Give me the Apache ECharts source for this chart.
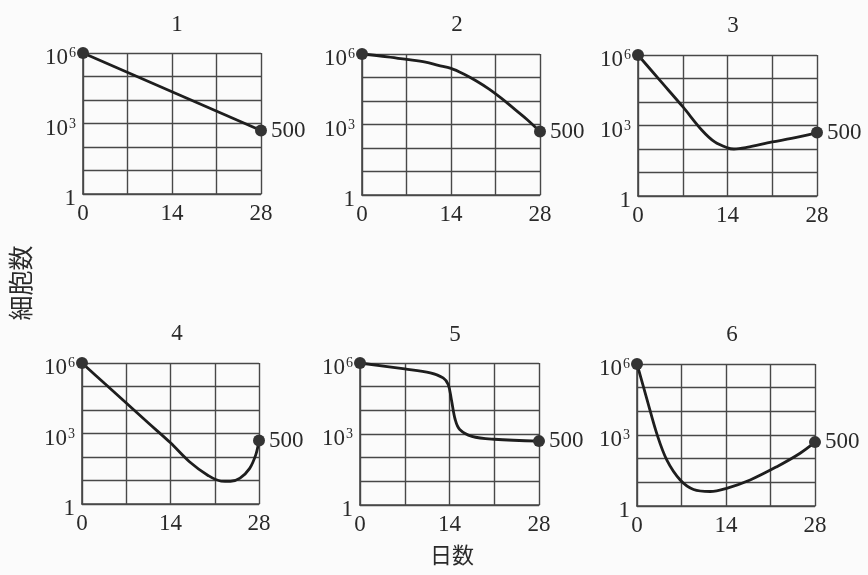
<!DOCTYPE html>
<html>
<head>
<meta charset="utf-8">
<script src="https://cdn.jsdelivr.net/npm/echarts@6/dist/echarts.min.js"></script>
<style>
html,body{margin:0;padding:0;background:#fbfbfb;}
#chart{width:868px;height:575px;}
</style>
</head>
<body>
<div id="chart"></div>
<script>
// ---- data ----
const panelTitles = ['1', '2', '3', '4', '5', '6'];
const xTickLabels = [0, 14, 28];
const yTickLabels = [1, 1000, 1000000];

const days1 = [0, 28];
const cells1 = [1000000, 500];

const days2 = [0, 4, 7, 10, 12, 14, 16, 18, 20, 22, 24, 26, 28];
const cells2 = [1000000, 760000, 590000, 450000, 330000, 245000, 141000, 71000, 32000, 12600, 4500, 1600, 500];

const days3 = [0, 3.5, 7, 10, 12, 14, 15, 17, 21, 24, 28];
const cells3 = [1000000, 79000, 6300, 630, 200, 112, 100, 117, 200, 280, 500];

const days4 = [0, 3.5, 7, 10.5, 14, 17, 20, 22, 23.5, 25, 26.5, 27.5, 28];
const cells4 = [1000000, 141000, 20000, 2800, 400, 63, 16, 9.5, 9.3, 12.6, 32, 126, 500];

const days5 = [0, 7, 11, 13, 13.8, 14.3, 14.9, 15.6, 17.5, 21, 28];
const cells5 = [1000000, 560000, 380000, 234000, 123000, 28000, 4000, 1550, 800, 600, 500];

const days6 = [0, 1.6, 3.1, 4.7, 6.8, 8.9, 11.5, 14.1, 17.8, 22, 25.6, 28];
const cells6 = [1000000, 30000, 1170, 87, 12.6, 5, 4.1, 5.6, 12.6, 46, 166, 500];

const allDays = [days1, days2, days3, days4, days5, days6];
const allCells = [cells1, cells2, cells3, cells4, cells5, cells6];

const yAxisName = '細胞数';
const xAxisName = '日数';

// ---- layout ----
const gridBoxes = [
  {left: 83, top: 53, width: 178, height: 141},
  {left: 362, top: 54, width: 178, height: 141},
  {left: 638, top: 55, width: 179, height: 141},
  {left: 82, top: 363, width: 177, height: 141},
  {left: 360, top: 363, width: 179, height: 142},
  {left: 637, top: 364, width: 178, height: 142}
];
const titlePos = [
  {x: 172, y: 8}, {x: 452, y: 8}, {x: 728, y: 9},
  {x: 172, y: 317}, {x: 450, y: 318}, {x: 727, y: 318}
];

const SERIF = '"Liberation Serif", "DejaVu Serif", serif';
const TXT = '#2a2a2a';
const GRIDC = '#484848';

const grids = [], xAxes = [], yAxes = [], series = [], titles = [];
gridBoxes.forEach((g, i) => {
  grids.push(Object.assign({}, g));
  titles.push({
    text: panelTitles[i], left: titlePos[i].x, top: titlePos[i].y, textAlign: 'center',
    textStyle: {fontFamily: SERIF, fontSize: 23, fontWeight: 'normal', color: TXT}
  });
  xAxes.push({
    type: 'value', gridIndex: i, min: 0, max: 28, interval: 7,
    axisLine: {show: true, lineStyle: {color: GRIDC, width: 1.6}},
    axisTick: {show: false},
    splitLine: {show: true, lineStyle: {color: GRIDC, width: 1.4}},
    axisLabel: {
      margin: 8, fontFamily: SERIF, fontSize: 23, color: TXT,
      formatter: v => xTickLabels.indexOf(v) >= 0 ? String(v) : ''
    }
  });
  yAxes.push({
    type: 'log', logBase: 10, gridIndex: i, min: 1, max: 1000000, interval: 1,
    axisLine: {show: true, lineStyle: {color: GRIDC, width: 1.6}},
    axisTick: {show: false},
    splitLine: {show: true, lineStyle: {color: GRIDC, width: 1.4}},
    axisLabel: {
      margin: 7, fontFamily: SERIF, fontSize: 23, color: TXT,
      verticalAlign: 'middle', padding: [10, 0, 0, 0],
      formatter: v => {
        const e = Math.round(Math.log10(v));
        const match = yTickLabels.find(t => Math.round(Math.log10(t)) === e);
        if (match === undefined) return '';
        if (e === 0) return '{b|1}';
        return '{b|10}{s|' + e + '}';
      },
      rich: {
        b: {fontFamily: SERIF, fontSize: 23, color: TXT},
        s: {fontFamily: SERIF, fontSize: 14, color: TXT, padding: [0, 0, 9, 1]}
      }
    }
  });
  const d = allDays[i], c = allCells[i];
  series.push({
    type: 'line', xAxisIndex: i, yAxisIndex: i,
    data: d.map((x, k) => [x, c[k]]),
    smooth: 0.35, symbol: 'none',
    lineStyle: {color: '#1e1e1e', width: 2.8}, z: 3
  });
  series.push({
    type: 'scatter', xAxisIndex: i, yAxisIndex: i,
    data: [
      {value: [d[0], c[0]], label: {show: false}},
      {value: [d[d.length - 1], c[c.length - 1]]}
    ],
    symbol: 'circle', symbolSize: 12,
    itemStyle: {color: '#333', opacity: 1}, z: 4,
    label: {
      show: true, position: 'right', distance: 4,
      fontFamily: SERIF, fontSize: 23, color: TXT,
      formatter: p => String(p.value[1])
    }
  });
});

const chart = echarts.init(document.getElementById('chart'), null, {renderer: 'canvas'});
chart.setOption({
  backgroundColor: '#fbfbfb',
  animation: false,
  title: titles,
  grid: grids,
  xAxis: xAxes,
  yAxis: yAxes,
  series: series,
  graphic: [
    {type: 'text', x: 20, y: 283, rotation: Math.PI / 2,
     style: {text: yAxisName, font: '25px "Noto Sans CJK JP"', fill: TXT, align: 'center', verticalAlign: 'middle'}},
    {type: 'text', x: 452, y: 555,
     style: {text: xAxisName, font: '22px "Noto Sans CJK JP"', fill: TXT, align: 'center', verticalAlign: 'middle'}}
  ]
});
</script>
</body>
</html>
